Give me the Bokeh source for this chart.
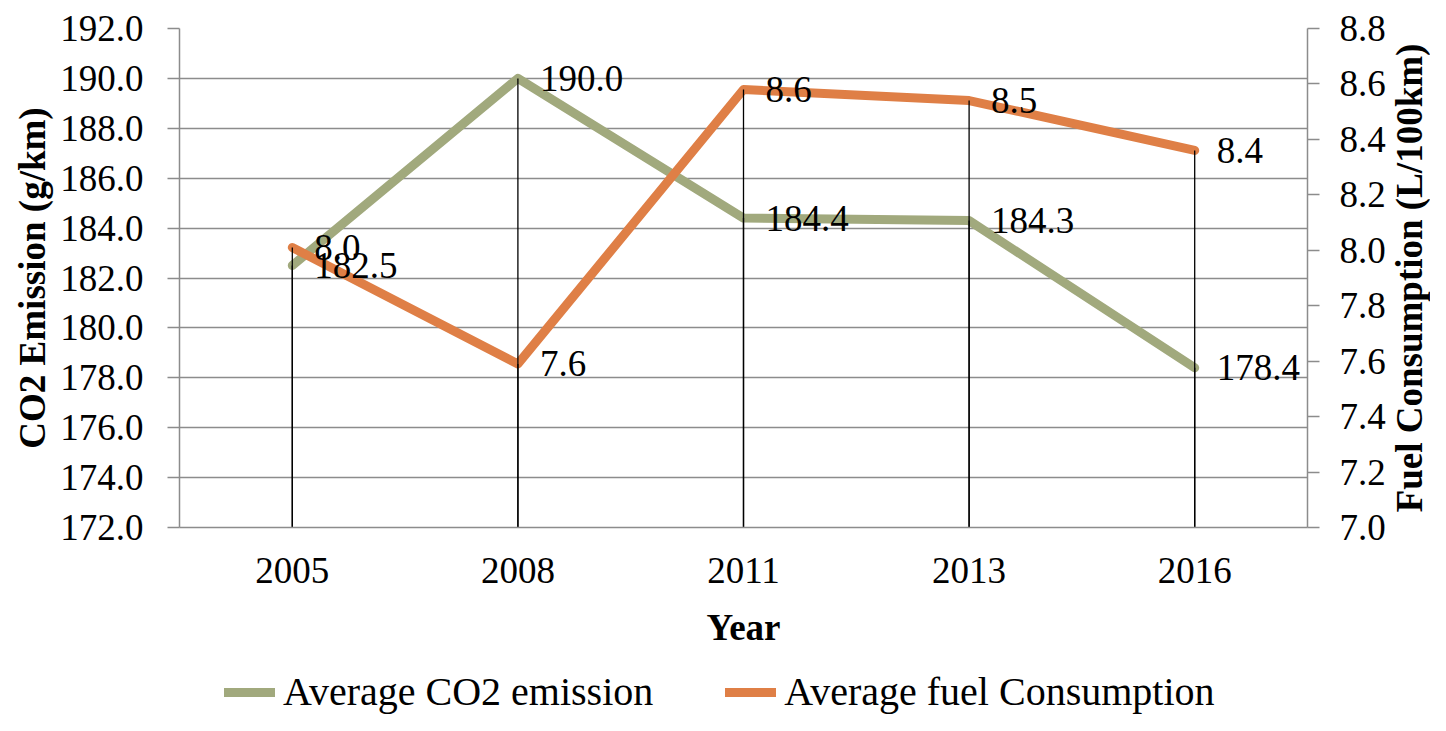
import math
from bokeh.plotting import figure
from bokeh.layouts import column, row
from bokeh.models import (Range1d, LinearAxis, FixedTicker, NumeralTickFormatter,
                          ColumnDataSource, LabelSet, Legend, LegendItem, Label)
from bokeh.embed import file_html
from bokeh.resources import INLINE

# ---- data ----
years = ["2005", "2008", "2011", "2013", "2016"]
co2 = [182.5, 190.0, 184.4, 184.3, 178.4]
fuel = [8.01, 7.59, 8.58, 8.54, 8.36]
co2_ticks = [172, 174, 176, 178, 180, 182, 184, 186, 188, 190, 192]
fuel_ticks = [7.0, 7.2, 7.4, 7.6, 7.8, 8.0, 8.2, 8.4, 8.6, 8.8]
co2_min, co2_max = 172, 192
fuel_min, fuel_max = 7.0, 8.8
series_names = ["Average CO2 emission", "Average fuel Consumption"]
right_title = "Fuel Consumption (L/100km)"

FONT = "Liberation Serif"
GREEN = "#A1A97D"
ORANGE = "#DF7F46"
GRID = "#8C8C8C"

W_TITLE = 42
W = 1430 - W_TITLE
H_MAIN = 657
H_LEG = 58
H_ALL = H_MAIN + H_LEG

p = figure(x_range=years, y_range=Range1d(co2_min, co2_max),
           width=W, height=H_MAIN, output_backend="svg", toolbar_location=None,
           min_border_left=179, min_border_right=W - 1309, min_border_top=28,
           min_border_bottom=130)
p.extra_y_ranges = {"fuel": Range1d(fuel_min, fuel_max)}
p.outline_line_color = None
p.background_fill_color = "white"
p.border_fill_color = "white"

p.xgrid.grid_line_color = None
p.ygrid.ticker = FixedTicker(ticks=co2_ticks)
p.ygrid.grid_line_color = GRID
p.ygrid.grid_line_width = 1.5

# x axis
xa = p.xaxis[0]
xa.axis_label = "Year"
xa.axis_label_text_font = FONT
xa.axis_label_text_font_size = "37px"
xa.axis_label_text_font_style = "bold"
xa.axis_label_text_color = "black"
xa.axis_label_standoff = 21
xa.major_label_text_font = FONT
xa.major_label_text_font_size = "37px"
xa.major_label_text_color = "black"
xa.major_label_standoff = 24
xa.major_tick_line_color = None
xa.minor_tick_line_color = None
xa.axis_line_color = GRID
xa.axis_line_width = 1.5

# left axis
ya = p.yaxis[0]
ya.ticker = FixedTicker(ticks=co2_ticks)
ya.formatter = NumeralTickFormatter(format="0.0")
ya.axis_label = "CO2 Emission (g/km)"
ya.axis_label_text_font = FONT
ya.axis_label_text_font_size = "37px"
ya.axis_label_text_font_style = "bold"
ya.axis_label_text_color = "black"
ya.axis_label_standoff = 4
ya.major_label_text_font = FONT
ya.major_label_text_font_size = "37px"
ya.major_label_text_color = "black"
ya.major_label_standoff = 24
ya.major_tick_out = 12
ya.major_tick_in = 0
ya.major_tick_line_color = GRID
ya.major_tick_line_width = 1.5
ya.minor_tick_line_color = None
ya.axis_line_color = GRID
ya.axis_line_width = 1.5

# right axis (title drawn in a narrow strip so it reads bottom-to-top)
ra = LinearAxis(y_range_name="fuel", ticker=FixedTicker(ticks=fuel_ticks),
                formatter=NumeralTickFormatter(format="0.0"))
ra.major_label_text_font = FONT
ra.major_label_text_font_size = "37px"
ra.major_label_text_color = "black"
ra.major_label_standoff = 20
ra.major_tick_out = 12
ra.major_tick_in = 0
ra.major_tick_line_color = GRID
ra.major_tick_line_width = 1.5
ra.minor_tick_line_color = None
ra.axis_line_color = GRID
ra.axis_line_width = 1.5
p.add_layout(ra, "right")

src = ColumnDataSource(dict(
    year=years, co2=co2, fuel=fuel,
    co2_base=[co2_min] * len(years), fuel_base=[fuel_min] * len(years),
    co2_lbl=[f"{v:.1f}" for v in co2], fuel_lbl=[f"{v:.1f}" for v in fuel],
))

line_style = dict(line_width=9, line_cap="round", line_join="round")
g = p.line("year", "co2", source=src, line_color=GREEN, **line_style)
o = p.line("year", "fuel", source=src, y_range_name="fuel", line_color=ORANGE,
           **line_style)

# drop lines
p.segment(x0="year", y0="co2", x1="year", y1="co2_base", source=src,
          line_color="black", line_width=1.3)
p.segment(x0="year", y0="fuel", x1="year", y1="fuel_base", source=src,
          y_range_name="fuel", line_color="black", line_width=1.3)

# data labels
p.add_layout(LabelSet(x="year", y="co2", text="co2_lbl", source=src, x_offset=22,
                      text_baseline="middle", text_align="left", text_font=FONT,
                      text_font_size="37px", text_color="black"))
p.add_layout(LabelSet(x="year", y="fuel", text="fuel_lbl", source=src, x_offset=22,
                      y_range_name="fuel", text_baseline="middle", text_align="left",
                      text_font=FONT, text_font_size="37px", text_color="black"))

# ---- legend strip (separate figure below the chart) ----
lf = figure(x_range=years, y_range=Range1d(co2_min, co2_max),
            width=W, height=H_LEG, output_backend="svg", toolbar_location=None,
            min_border=0, min_border_left=0, min_border_right=0,
            min_border_top=0, min_border_bottom=0)
lf.axis.visible = False
lf.grid.visible = False
lf.outline_line_color = None
lf.background_fill_color = "white"
lf.border_fill_color = "white"
lg = lf.line("year", "co2", source=src, line_color=GREEN, visible=False, **line_style)
lo = lf.line("year", "co2", source=src, line_color=ORANGE, visible=False, **line_style)

legend = Legend(items=[LegendItem(label=series_names[0], renderers=[lg]),
                       LegendItem(label=series_names[1], renderers=[lo])],
                orientation="horizontal", location=(45, 0),
                glyph_width=51, glyph_height=20, label_standoff=8, spacing=72,
                padding=0, margin=0, border_line_color=None,
                background_fill_alpha=0, inactive_fill_alpha=0,
                label_text_font=FONT,
                label_text_font_size="40px", label_text_color="black")
lf.add_layout(legend)

# ---- right axis title strip ----
tf = figure(x_range=Range1d(0, 1), y_range=Range1d(0, 1),
            width=W_TITLE, height=H_ALL, output_backend="svg", toolbar_location=None,
            min_border=0, min_border_left=0, min_border_right=0,
            min_border_top=28, min_border_bottom=H_ALL - 527)
tf.axis.visible = False
tf.grid.visible = False
tf.outline_line_color = None
tf.background_fill_color = "white"
tf.border_fill_color = "white"
tf.add_layout(Label(x=0.5, y=0.5, text=right_title, angle=math.pi / 2,
                    text_align="center", text_baseline="middle",
                    text_font=FONT, text_font_size="37px", text_font_style="bold",
                    text_color="black"))

layout = row(column(p, lf, spacing=0), tf, spacing=0)
open("out.html", "w").write(file_html(layout, INLINE))
